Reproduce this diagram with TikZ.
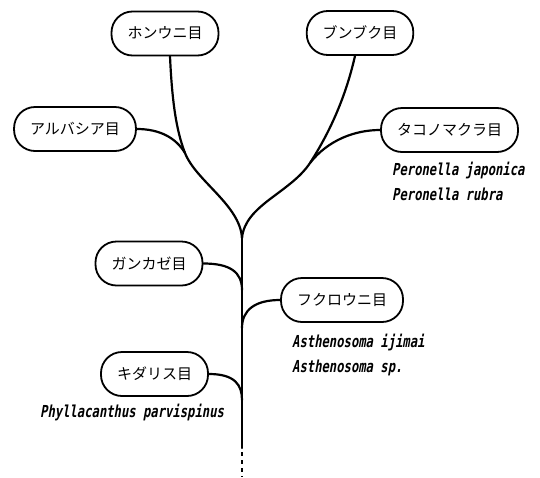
\documentclass[tikz,border=0pt]{standalone}
\usepackage{fontspec}
\newfontfamily\jpfont{Noto Sans CJK JP}
\newfontfamily\latfont[FakeSlant=0.18,FakeStretch=0.74]{DejaVu Sans Mono}
\begin{document}
\begin{tikzpicture}[x=1pt,y=-1pt,
  pill/.style={draw,line width=1.8pt,rectangle,rounded corners=21pt,minimum height=44pt,inner xsep=16pt,font=\jpfont\fontsize{15}{17}\selectfont},
  species/.style={anchor=base west,inner sep=0pt,font=\latfont\bfseries\fontsize{16.5}{18}\selectfont},
  branch/.style={line width=2.2pt,line cap=round}]
\useasboundingbox (0,0) rectangle (540,477);
% order nodes
\node[pill] (hon)  at (165,33.5) {ホンウニ目};
\node[pill] (bun)  at (360,33) {ブンブク目};
\node[pill] (aru)  at (75,129) {アルバシア目};
\node[pill] (tako) at (449.5,130) {タコノマクラ目};
\node[pill] (gan)  at (149,263.5) {ガンカゼ目};
\node[pill] (fuku) at (342,300) {フクロウニ目};
\node[pill] (kida) at (154.5,374) {キダリス目};
% species
\node[species] (pj) at (392,175) {Peronella japonica};
\node[species] (pr) at (392,200) {Peronella rubra};
\node[species] (ai) at (292,347) {Asthenosoma ijimai};
\node[species] (as) at (292,372) {Asthenosoma sp.};
\node[species] (pp) at (40,417) {Phyllacanthus parvispinus};
% junction coordinates
\coordinate (j)  at (242,238);
\coordinate (ml) at (185,153);
\coordinate (mr) at (310,163);
\coordinate (jg) at (242,290);
\coordinate (jf) at (242,328);
\coordinate (jk) at (242,400);
\coordinate (te) at (242,448);
\coordinate (tb) at (242,477);
% branches
\draw[branch] ([xshift=5pt]hon.south) .. controls (172,100) and (176,130) .. (ml)
  .. controls (196,181) and (240,205) .. (j);
\draw[branch] (aru.east) .. controls (160,129) and (176,138) .. (ml);
\draw[branch] ([xshift=-5pt]bun.south) .. controls (345,100) and (328,135) .. (mr)
  .. controls (290,193) and (245,205) .. (j);
\draw[branch] (tako.west) .. controls (355,130) and (328,140) .. (mr);
\draw[branch] (j) -- (te);
\draw[branch] (gan.east) .. controls (230,263.5) and (242,272) .. (jg);
\draw[branch] (fuku.west) .. controls (255,300) and (242,310) .. (jf);
\draw[branch] (kida.east) .. controls (235,374) and (242,385) .. (jk);
\draw[line width=2.6pt,dash pattern=on 3.5pt off 4.5pt] ([yshift=4pt]te) -- (tb);
\end{tikzpicture}
\end{document}
